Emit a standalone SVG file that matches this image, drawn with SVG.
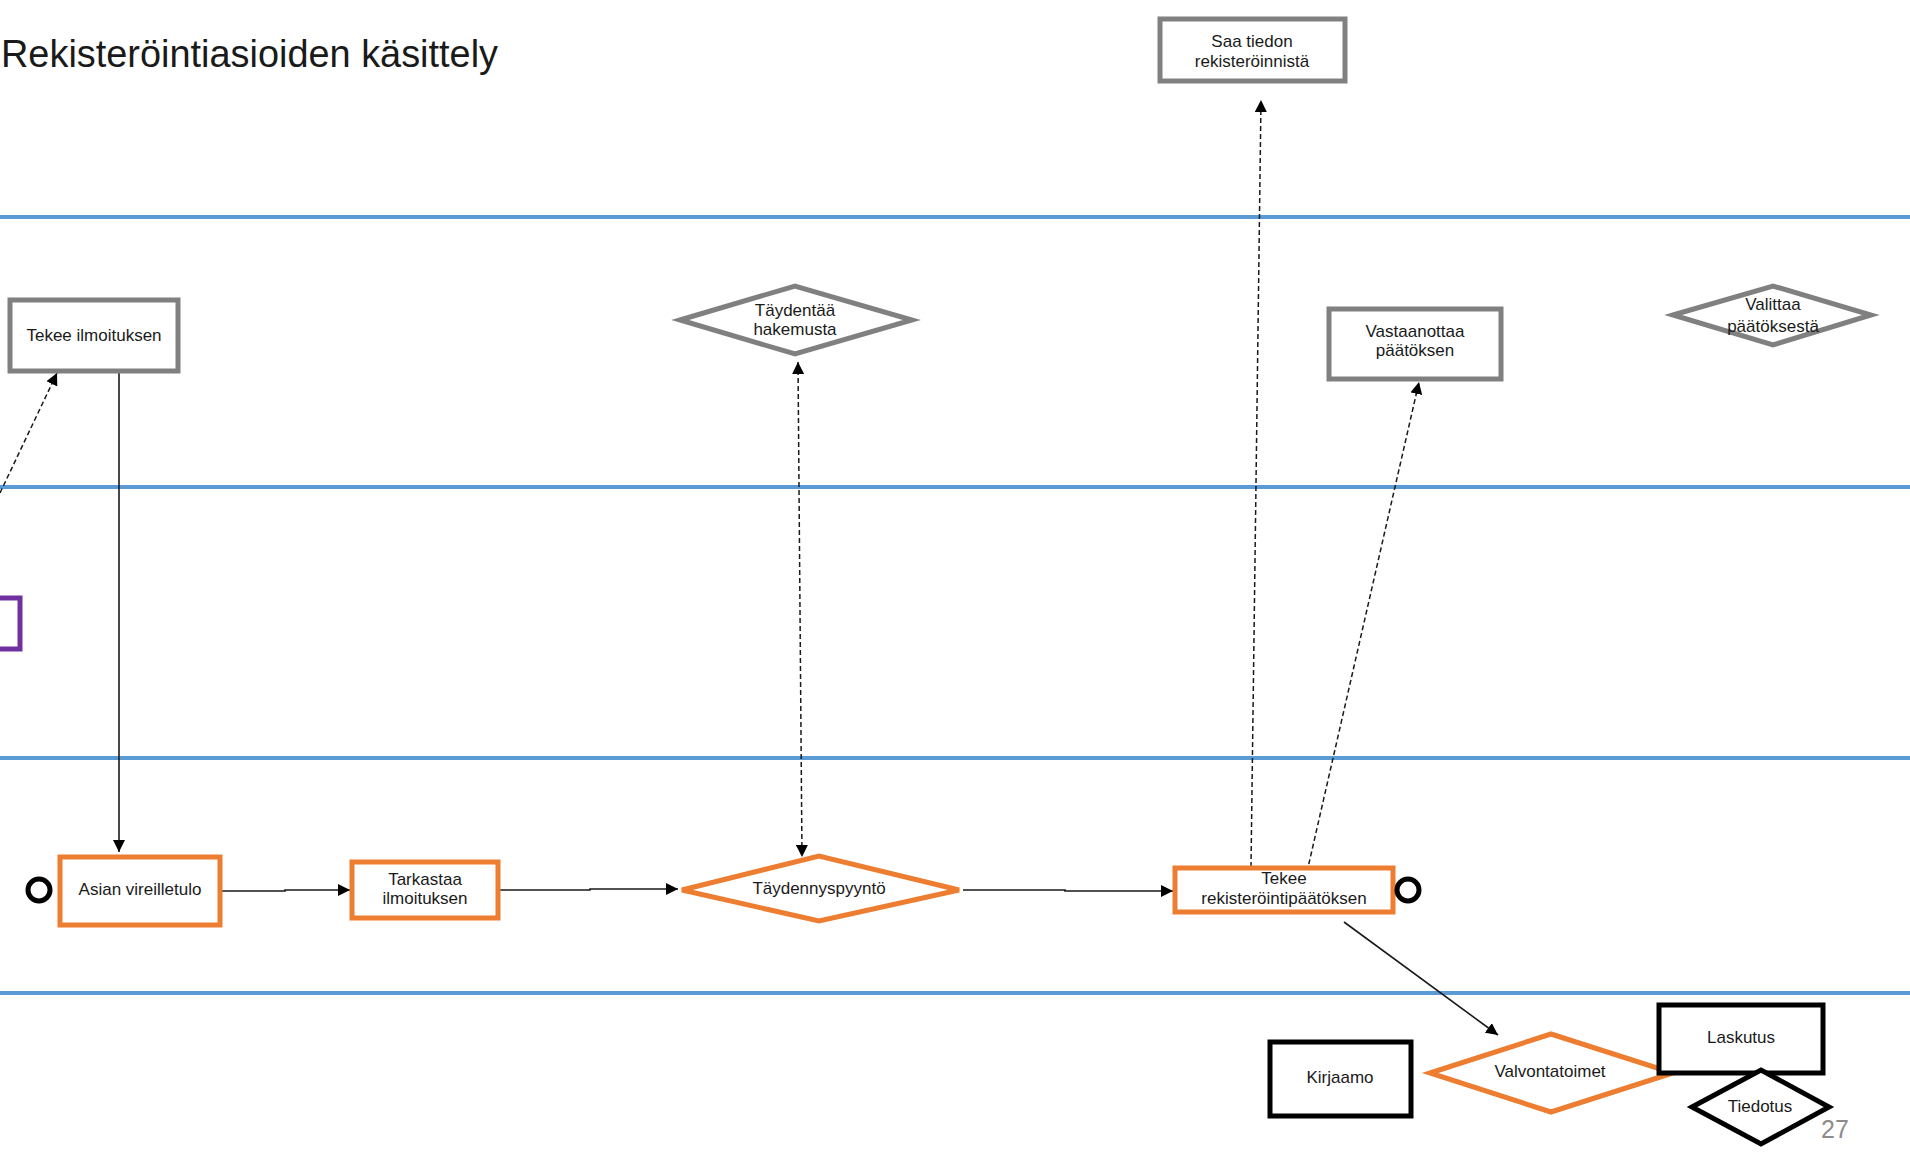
<svg xmlns="http://www.w3.org/2000/svg" width="1910" height="1160" viewBox="0 0 1910 1160">
<style>
text{font-family:"Liberation Sans",Arial,sans-serif;font-size:17px;fill:#1a1a1a;text-anchor:middle}
.lane{stroke:#5B9BD5;stroke-width:4;fill:none}
.gray{fill:#fff;stroke:#808080;stroke-width:5}
.orange{fill:#fff;stroke:#ED7D31;stroke-width:5}
.black{fill:#fff;stroke:#000;stroke-width:5}
.purple{fill:#fff;stroke:#7030A0;stroke-width:5}
.solid{stroke:#1a1a1a;stroke-width:1.6;fill:none}
.dash{stroke:#1a1a1a;stroke-width:1.5;fill:none;stroke-dasharray:5 3}
.ev{fill:none;stroke:#000;stroke-width:5}
</style>
<defs>
<marker id="arr" viewBox="0 0 10 10" refX="10" refY="5" markerWidth="12" markerHeight="12" markerUnits="userSpaceOnUse" orient="auto-start-reverse">
<path d="M0,0 L10,5 L0,10 z" fill="#000"/>
</marker>
</defs>
<rect width="1910" height="1160" fill="#fff"/>
<text x="1" y="67" style="font-size:38px;text-anchor:start" textLength="497" lengthAdjust="spacingAndGlyphs">Rekisteröintiasioiden käsittely</text>
<g id="lanes">
<line class="lane" x1="0" y1="217" x2="1910" y2="217"/>
<line class="lane" x1="0" y1="487" x2="1910" y2="487"/>
<line class="lane" x1="0" y1="758" x2="1910" y2="758"/>
<line class="lane" x1="0" y1="993" x2="1910" y2="993"/>
</g>
<g id="connectors">
<path class="dash" d="M0,493 L57,373" marker-end="url(#arr)"/>
<path class="solid" d="M119,373 L119,852" marker-end="url(#arr)"/>
<path class="solid" d="M222,891 L285,891 L285,890 L350,890" marker-end="url(#arr)"/>
<path class="solid" d="M500,890 L590,890 L590,889 L678,889" marker-end="url(#arr)"/>
<path class="dash" d="M798,362 L802,857" marker-start="url(#arr)" marker-end="url(#arr)"/>
<path class="solid" d="M963,890 L1065,890 L1065,891 L1173,891" marker-end="url(#arr)"/>
<path class="dash" d="M1251,867 L1261,100" marker-end="url(#arr)"/>
<path class="dash" d="M1307,872 L1419,382" marker-end="url(#arr)"/>
<path class="solid" d="M1344,922 L1498,1035" marker-end="url(#arr)"/>
</g>
<g id="purple-box"><rect class="purple" x="-20" y="598" width="40" height="51"/></g>
<g id="saa-tiedon">
<rect class="gray" x="1160" y="19" width="185" height="62"/>
<text x="1252" y="47">Saa tiedon</text>
<text x="1252" y="67">rekisteröinnistä</text>
</g>
<g id="tekee-ilmoituksen">
<rect class="gray" x="10" y="300" width="168" height="71"/>
<text x="94" y="341">Tekee ilmoituksen</text>
</g>
<g id="taydentaa">
<polygon class="gray" points="680,320 795,286 912,320 795,354"/>
<text x="795" y="316">Täydentää</text>
<text x="795" y="335">hakemusta</text>
</g>
<g id="vastaanottaa">
<rect class="gray" x="1329" y="309" width="172" height="70"/>
<text x="1415" y="337">Vastaanottaa</text>
<text x="1415" y="356">päätöksen</text>
</g>
<g id="valittaa">
<polygon class="gray" points="1673,315 1773,286 1871,315 1773,345"/>
<text x="1773" y="310">Valittaa</text>
<text x="1773" y="332">päätöksestä</text>
</g>
<g id="start"><circle class="ev" cx="39" cy="890" r="11"/></g>
<g id="asian">
<rect class="orange" x="60" y="857" width="160" height="68"/>
<text x="140" y="895">Asian vireilletulo</text>
</g>
<g id="tarkastaa">
<rect class="orange" x="352" y="862" width="146" height="56"/>
<text x="425" y="885">Tarkastaa</text>
<text x="425" y="904">ilmoituksen</text>
</g>
<g id="taydennyspyynto">
<polygon class="orange" points="682,890 819,856 959,890 819,921"/>
<text x="819" y="894">Täydennyspyyntö</text>
</g>
<g id="tekee-paatos">
<rect class="orange" x="1175" y="868" width="218" height="44"/>
<text x="1284" y="884">Tekee</text>
<text x="1284" y="904">rekisteröintipäätöksen</text>
</g>
<g id="end"><circle class="ev" cx="1408" cy="890" r="11"/></g>
<g id="kirjaamo">
<rect class="black" x="1270" y="1042" width="141" height="74"/>
<text x="1340" y="1083">Kirjaamo</text>
</g>
<g id="valvontatoimet">
<polygon class="orange" points="1430,1073 1551,1034 1673,1073 1551,1112"/>
<text x="1550" y="1077">Valvontatoimet</text>
</g>
<g id="laskutus">
<rect class="black" x="1659" y="1005" width="164" height="68"/>
<text x="1741" y="1043">Laskutus</text>
</g>
<g id="tiedotus">
<polygon class="black" points="1692,1107 1761,1070 1829,1107 1761,1144"/>
<text x="1760" y="1112">Tiedotus</text>
</g>
<text x="1835" y="1138" style="font-size:25px;fill:#8c8c8c">27</text>
</svg>
